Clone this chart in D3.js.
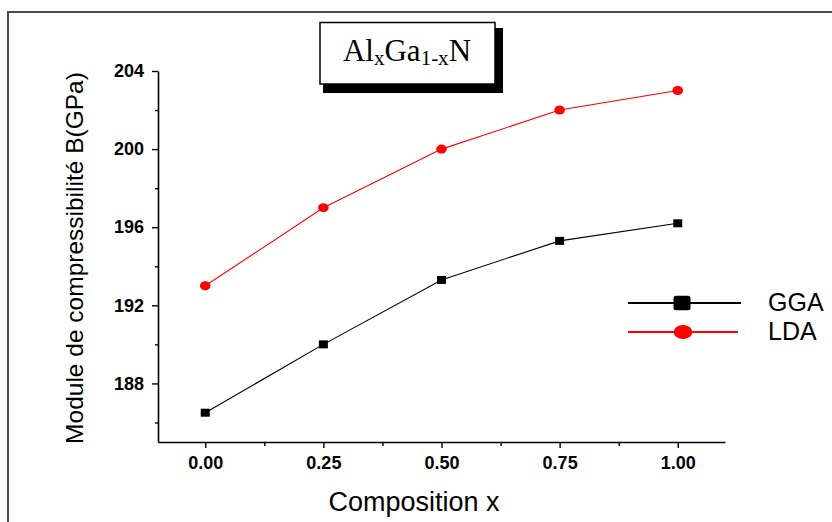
<!DOCTYPE html>
<html>
<head>
<meta charset="utf-8">
<script src="https://cdn.jsdelivr.net/npm/d3@7"></script>
<style>
  html, body { margin: 0; padding: 0; background: #fff; }
  svg { display: block; }
</style>
</head>
<body>
<svg id="chart" width="832" height="522"></svg>
<script>
// Bulk modulus of AlxGa1-xN versus composition
const compositions = [0, 0.25, 0.5, 0.75, 1.0];
const ggaValues = [186.5, 190.0, 193.3, 195.3, 196.2];
const ldaValues = [193.0, 197.0, 200.0, 202.0, 203.0];
const seriesNames = ["GGA", "LDA"];
const xTicks = [0, 0.25, 0.5, 0.75, 1.0];
const xMinorTicks = [0.125, 0.375, 0.625, 0.875];
const yTicks = [188, 192, 196, 200, 204];
const yMinorTicks = [186, 190, 194, 198, 202];

const svg = d3.select("#chart");

// outer frame
svg.append("rect")
  .attr("x", 8).attr("y", 12)
  .attr("width", 840).attr("height", 530)
  .attr("fill", "none")
  .attr("stroke", "#4a4a4a")
  .attr("stroke-width", 2);

const x = d3.scaleLinear().domain([-0.1, 1.1]).range([158, 725]);
const y = d3.scaleLinear().domain([185, 204]).range([442, 71]);

const tickFont = "'Liberation Sans', Arial, sans-serif";

// y axis
svg.append("g")
  .attr("transform", `translate(${x(-0.1)},0)`)
  .call(d3.axisLeft(y).tickValues(yTicks).tickSize(6).tickSizeOuter(0).tickPadding(8)
    .tickFormat(d3.format("d")));
svg.append("g")
  .attr("transform", `translate(${x(-0.1)},0)`)
  .call(d3.axisLeft(y).tickValues(yMinorTicks).tickSize(3).tickSizeOuter(0).tickFormat(""))
  .call(g => g.select(".domain").remove());

// x axis
svg.append("g")
  .attr("transform", `translate(0,${y(185)})`)
  .call(d3.axisBottom(x).tickValues(xTicks).tickSize(6).tickSizeOuter(0).tickPadding(8)
    .tickFormat(d3.format(".2f")));
svg.append("g")
  .attr("transform", `translate(0,${y(185)})`)
  .call(d3.axisBottom(x).tickValues(xMinorTicks).tickSize(4).tickSizeOuter(0).tickFormat(""))
  .call(g => g.select(".domain").remove());

svg.selectAll(".domain").attr("stroke", "#000").attr("stroke-width", 1.6);
svg.selectAll(".tick line").attr("stroke", "#000").attr("stroke-width", 1.4);
svg.selectAll(".tick text")
  .attr("font-family", tickFont)
  .attr("font-weight", "bold")
  .attr("font-size", 18)
  .attr("fill", "#000");

// series
const series = [
  { name: seriesNames[0], values: ggaValues, color: "#000000", shape: "square" },
  { name: seriesNames[1], values: ldaValues, color: "#ff0000", shape: "circle" }
];

const line = d3.line()
  .x(d => x(d[0]))
  .y(d => y(d[1]));

series.forEach(s => {
  const pts = compositions.map((c, i) => [c, s.values[i]]);
  svg.append("path")
    .datum(pts)
    .attr("d", line)
    .attr("fill", "none")
    .attr("stroke", s.color)
    .attr("stroke-width", 1.1);
  if (s.shape === "square") {
    svg.selectAll(null).data(pts).enter().append("rect")
      .attr("x", d => x(d[0]) - 4.5)
      .attr("y", d => y(d[1]) - 4)
      .attr("width", 9).attr("height", 8)
      .attr("fill", s.color);
  } else {
    svg.selectAll(null).data(pts).enter().append("ellipse")
      .attr("cx", d => x(d[0]))
      .attr("cy", d => y(d[1]))
      .attr("rx", 5.3).attr("ry", 4.5)
      .attr("fill", s.color);
  }
});

// legend
const legendRows = [303, 332];
series.forEach((s, i) => {
  const ly = legendRows[i];
  svg.append("line")
    .attr("x1", 628).attr("x2", i === 0 ? 741 : 738)
    .attr("y1", ly).attr("y2", ly)
    .attr("stroke", s.color).attr("stroke-width", 2);
  if (s.shape === "square") {
    svg.append("rect")
      .attr("x", 682 - 8.5).attr("y", ly - 7.3)
      .attr("width", 17).attr("height", 14.6)
      .attr("rx", 2.5)
      .attr("fill", s.color);
  } else {
    svg.append("ellipse")
      .attr("cx", 683).attr("cy", ly)
      .attr("rx", 9.3).attr("ry", 7)
      .attr("fill", s.color);
  }
  svg.append("text")
    .attr("x", 768).attr("y", ly + 8)
    .attr("font-family", tickFont)
    .attr("font-size", 25)
    .attr("fill", "#000")
    .text(s.name);
});

// axis titles
svg.append("text")
  .attr("transform", "translate(83,258) rotate(-90)")
  .attr("text-anchor", "middle")
  .attr("font-family", tickFont)
  .attr("font-size", 24.5)
  .attr("fill", "#000")
  .text("Module de compressibilité B(GPa)");

svg.append("text")
  .attr("x", 414).attr("y", 511)
  .attr("text-anchor", "middle")
  .attr("font-family", tickFont)
  .attr("font-size", 27)
  .attr("fill", "#000")
  .text("Composition x");

// title box with drop shadow
svg.append("rect")
  .attr("x", 323).attr("y", 28)
  .attr("width", 180).attr("height", 65)
  .attr("fill", "#000");
svg.append("rect")
  .attr("x", 320).attr("y", 22.5)
  .attr("width", 175).attr("height", 61.5)
  .attr("fill", "#fff")
  .attr("stroke", "#000")
  .attr("stroke-width", 1.5);

const title = svg.append("text")
  .attr("x", 407).attr("y", 61)
  .attr("text-anchor", "middle")
  .attr("font-family", "'Liberation Serif', 'Times New Roman', serif")
  .attr("font-size", 31)
  .attr("fill", "#000");
title.append("tspan").text("Al");
title.append("tspan").attr("font-size", 21).attr("dy", 4).text("x");
title.append("tspan").attr("dy", -4).text("Ga");
title.append("tspan").attr("font-size", 21).attr("dy", 4).text("1-x");
title.append("tspan").attr("dy", -4).text("N");
</script>
</body>
</html>
